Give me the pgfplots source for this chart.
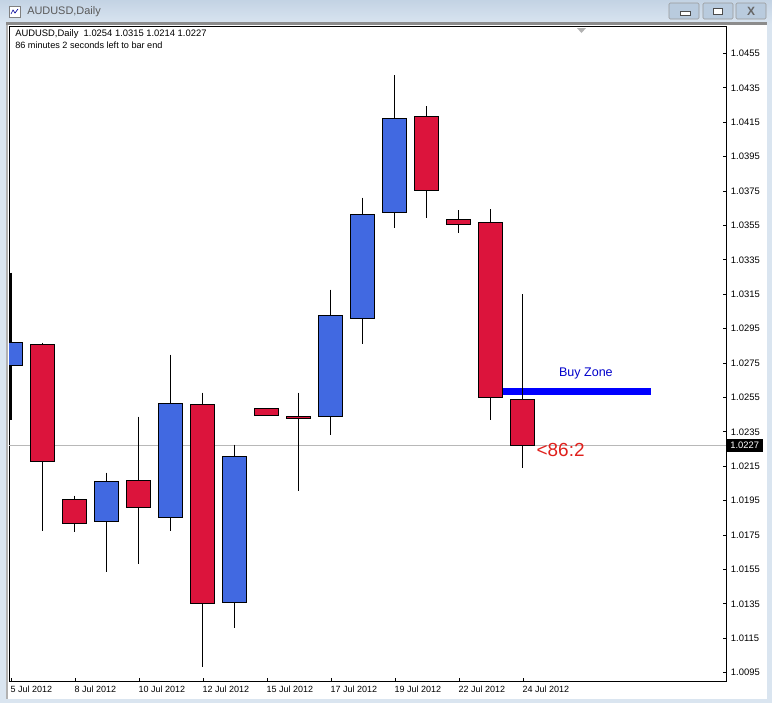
\documentclass[border=0pt]{standalone}
\usepackage{pgfplots}
\pgfplotsset{compat=1.18}
\usepackage{fontspec}
\setmainfont{Liberation Sans}
\definecolor{upcol}{HTML}{4169E1}
\definecolor{downcol}{HTML}{DC143C}
\definecolor{timer}{HTML}{E0201C}
\definecolor{frame}{HTML}{DAE5F0}
\definecolor{frametop}{HTML}{C3D3E4}
\definecolor{btn}{HTML}{B9CBDE}
% index, open, close, high, low, colour
\newcommand\candle[6]{%
  \pgfmathsetmacro\xl{#1-0.375}%
  \pgfmathsetmacro\xr{#1+0.375}%
  \addplot[black, line width=0.75pt] coordinates {(#1,#4) (#1,#5)};
  \addplot[draw=black, line width=0.75pt, fill=#6] coordinates {(\xl,#2) (\xr,#2) (\xr,#3) (\xl,#3)} -- cycle;
}
\begin{document}
\begin{tikzpicture}[x=0.75pt, y=-0.75pt]
  \path[use as bounding box] (0,0) rectangle (772,703);
  % window chrome
  \fill[frame] (0,0) rectangle (772,703);
  \shade[top color=frametop, bottom color=frame] (0,0) rectangle (772,24);
  \fill[black!45] (6,22) rectangle (767,25);
  \fill[black!30] (6,25) rectangle (8,699);
  \fill[white] (8,25) rectangle (767,699);
  \node[anchor=west, inner sep=0pt, font=\fontsize{8.2pt}{10pt}\selectfont, text=black!65] at (27,11.5) {AUDUSD,Daily};
  \draw[black!50, fill=white] (9,6) rectangle (20,17);
  \draw[blue!60!black, line width=0.5pt] (11,14) -- (13,10) -- (15,13) -- (18,9);
  \foreach \bx in {669,703,736}
    \draw[black!40, fill=btn, rounded corners=1pt] (\bx,3) rectangle ++(30,16);
  \draw[black!70, fill=white] (680,11) rectangle (690,15);
  \draw[black!70, fill=white] (713,8) rectangle (722,14);
  \node[font=\fontsize{9pt}{9pt}\selectfont\bfseries, text=black!60] at (751,11) {X};
  \begin{axis}[
      at={(6.75pt,-510.75pt)}, anchor=south west,
      scale only axis, width=537.75pt, height=490.5pt,
      xmin=-0.06, xmax=22.345, ymin=1.00901, ymax=1.04704,
      clip mode=individual,
      axis line style={black, line width=0.75pt},
      tick style={black, line width=0.6pt},
      major tick length=2.5pt,
      ytick={1.0095,1.0115,...,1.0456},
      yticklabel pos=right, ytick pos=right,
      xtick={0,2,4,6,8,10,12,14,16}, xtick pos=bottom,
      xticklabels={5 Jul 2012,8 Jul 2012,10 Jul 2012,12 Jul 2012,15 Jul 2012,17 Jul 2012,19 Jul 2012,22 Jul 2012,24 Jul 2012},
      tick label style={font=\fontsize{7.05pt}{9pt}\selectfont},
      xticklabel style={font=\fontsize{6.75pt}{9pt}\selectfont, anchor=north west, xshift=-3.75pt, yshift=0pt},
      yticklabel style={xshift=0.2pt},
      y tick label style={/pgf/number format/.cd, fixed, fixed zerofill, precision=4, assume math mode=true},
      scaled y ticks=false,
    ]
    \addplot[black!28, line width=0.75pt] coordinates {(-0.06,1.0227) (22.345,1.0227)};
    \addplot[black, line width=1.5pt] coordinates {(0,1.03276) (0,1.02416)};
    \addplot[draw=black, line width=0.75pt, fill=upcol] coordinates {(-0.375,1.02869) (0.375,1.02869) (0.375,1.02735) (-0.375,1.02735)} -- cycle;
    \candle{1}{1.02858}{1.02177}{1.02869}{1.01776}{downcol}
    \candle{2}{1.01956}{1.01816}{1.01979}{1.01770}{downcol}
    \candle{3}{1.01828}{1.02061}{1.02113}{1.01537}{upcol}
    \candle{4}{1.02067}{1.01910}{1.02439}{1.01584}{downcol}
    \candle{5}{1.01851}{1.02514}{1.02799}{1.01776}{upcol}
    \candle{6}{1.02509}{1.01351}{1.02578}{1.00985}{downcol}
    \candle{7}{1.01357}{1.02206}{1.02276}{1.01212}{upcol}
    \candle{8}{1.02485}{1.02445}{1.02485}{1.02445}{downcol}
    \candle{9}{1.02439}{1.02427}{1.02578}{1.02008}{downcol}
    \candle{10}{1.02439}{1.03026}{1.03177}{1.02334}{upcol}
    \candle{11}{1.03009}{1.03614}{1.03712}{1.02863}{upcol}
    \candle{12}{1.03625}{1.04172}{1.04422}{1.03538}{upcol}
    \candle{13}{1.04184}{1.03753}{1.04242}{1.03596}{downcol}
    \candle{14}{1.03585}{1.03555}{1.03637}{1.03509}{downcol}
    \candle{15}{1.03567}{1.02549}{1.03643}{1.02416}{downcol}
    \addplot[blue, line width=5.25pt] coordinates {(15.375,1.02587) (20,1.02587)};
    \candle{16}{1.0254}{1.0227}{1.0315}{1.0214}{downcol}
    \node[anchor=west, inner sep=0pt, text=blue!80!black, font=\fontsize{9.4pt}{11pt}\selectfont] at (axis cs:17.12,1.02687) {Buy Zone};
    \node[anchor=west, text=timer, inner sep=0pt, font=\fontsize{14.2pt}{17pt}\selectfont] at (axis cs:16.42,1.02245) {<86:2};
    \node[anchor=west, fill=black, text=white, inner sep=0pt, minimum width=27pt, minimum height=10pt, font=\fontsize{7.05pt}{9pt}\selectfont] at (axis cs:22.36,1.0227) {1.0227};
  \end{axis}
  \node[anchor=west, inner sep=0pt, font=\fontsize{7.05pt}{7.4pt}\selectfont] at (15,34) {AUDUSD,Daily\ \ 1.0254 1.0315 1.0214 1.0227};
  \node[anchor=west, inner sep=0pt, font=\fontsize{6.85pt}{7.4pt}\selectfont] at (15,45) {86 minutes 2 seconds left to bar end};
  \fill[black!30] (577,28) -- (586,28) -- (581.5,33) -- cycle;
\end{tikzpicture}
\end{document}
